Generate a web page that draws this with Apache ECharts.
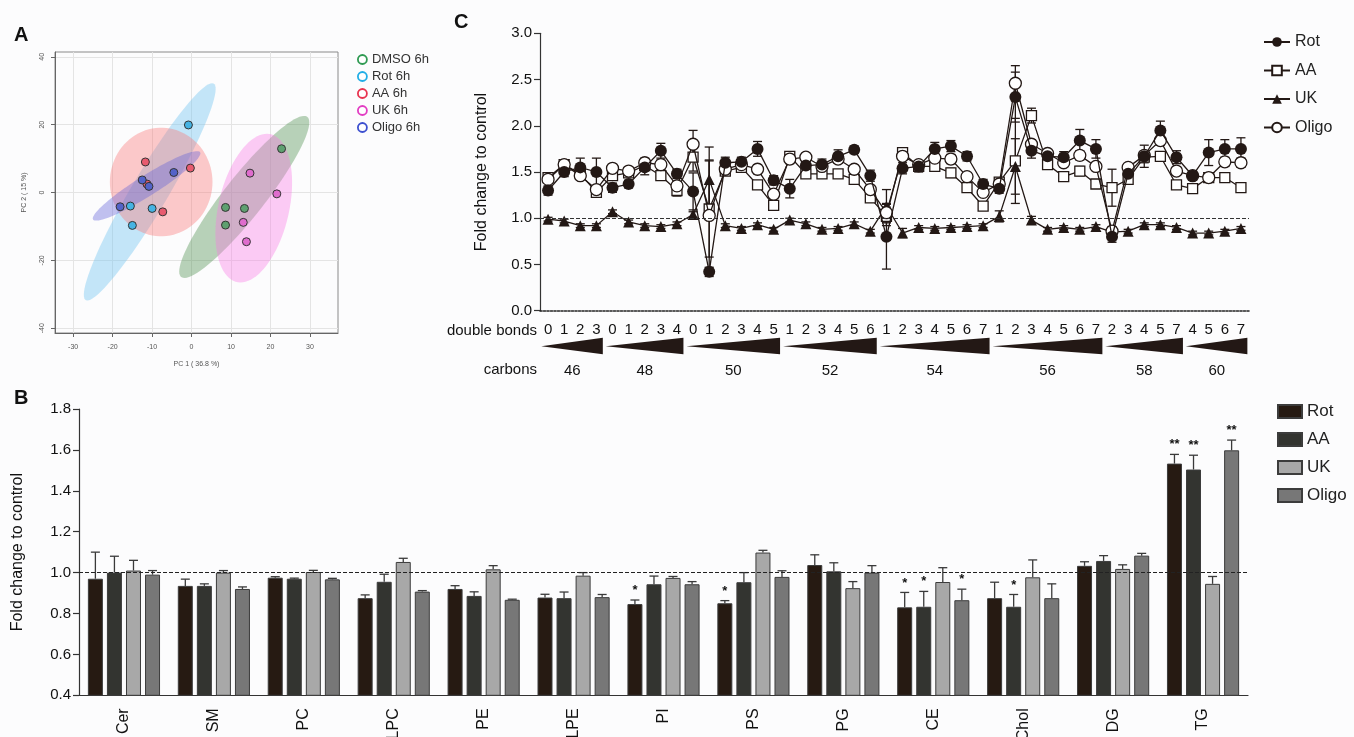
<!DOCTYPE html>
<html>
<head>
<meta charset="utf-8">
<script src="https://cdn.jsdelivr.net/npm/echarts@6/dist/echarts.min.js"></script>
<style>
  html, body { margin: 0; padding: 0; background: #fcfcfd; }
  .panel { position: absolute; }
</style>
</head>
<body>
<div id="chartA" class="panel" style="left:0;top:0;width:450px;height:380px"></div>
<div id="chartC" class="panel" style="left:440px;top:0;width:914px;height:390px"></div>
<div id="chartB" class="panel" style="left:0;top:380px;width:1354px;height:357px"></div>
<script>
const FONT = 'Liberation Sans, Arial, Helvetica, sans-serif'
const INK = '#231815'

// ---------- panel A : PCA ----------
const pcaNames = ['DMSO 6h', 'Rot 6h', 'AA 6h', 'UK 6h', 'Oligo 6h']
const dmsoPts = [[8.6, -4.4], [13.4, -4.7], [8.6, -9.6], [22.8, 12.9]]
const rotPts = [[-0.8, 19.9], [-15.5, -4.0], [-10.0, -4.7], [-15.0, -9.7]]
const aaPts = [[-11.7, 9.0], [-0.3, 7.2], [-7.3, -5.7], [-11.3, 2.5]]
const ukPts = [[14.8, 5.7], [21.6, -0.4], [13.1, -8.8], [13.9, -14.5]]
const oligoPts = [[-4.5, 5.9], [-12.5, 3.7], [-10.8, 1.8], [-18.1, -4.2]]
// confidence ellipses: centre x, centre y, semi axis a, semi axis b, angle (deg)
const pcaEllipses = [
  [13.35, -1.3, 28.5, 5.4, 56.2],
  [-10.6, 0.2, 35.8, 4.8, 63.2],
  [-7.7, 3.1, 13, 16, 0],
  [15.75, -4.6, 22.2, 9, 79.6],
  [-11.4, 1.95, 16.8, 2.9, 36.4]
]
const pcaXTicks = [-30, -20, -10, 0, 10, 20, 30]
const pcaYTicks = [-40, -20, 0, 20, 40]

// ---------- panel C : TG species ----------
const carbonGroups = [46, 48, 50, 52, 54, 56, 58, 60]
const doubleBonds = [
  [0, 1, 2, 3],
  [0, 1, 2, 3, 4],
  [0, 1, 2, 3, 4, 5],
  [1, 2, 3, 4, 5, 6],
  [1, 2, 3, 4, 5, 6, 7],
  [1, 2, 3, 4, 5, 6, 7],
  [2, 3, 4, 5, 7],
  [4, 5, 6, 7]
]
const tgRot = [1.30, 1.50, 1.55, 1.50, 1.33, 1.37, 1.55, 1.73, 1.48, 1.29, 0.42, 1.60, 1.61, 1.75, 1.41,
  1.32, 1.57, 1.58, 1.67, 1.74, 1.46, 0.80, 1.54, 1.56, 1.75, 1.78, 1.67, 1.37, 1.32, 2.31, 1.73, 1.67,
  1.66, 1.84, 1.75, 0.80, 1.48, 1.67, 1.95, 1.66, 1.46, 1.71, 1.75, 1.75]
const tgAA = [1.44, 1.58, 1.48, 1.28, 1.46, 1.49, 1.57, 1.46, 1.30, 1.66, 1.10, 1.51, 1.55, 1.36, 1.14,
  1.67, 1.48, 1.48, 1.48, 1.42, 1.22, 1.02, 1.71, 1.56, 1.56, 1.49, 1.33, 1.13, 1.39, 1.62, 2.11, 1.58,
  1.45, 1.51, 1.37, 1.33, 1.42, 1.66, 1.67, 1.36, 1.32, 1.44, 1.44, 1.33]
const tgUK = [0.99, 0.97, 0.92, 0.92, 1.07, 0.96, 0.92, 0.91, 0.94, 1.04, 1.42, 0.92, 0.89, 0.93, 0.88,
  0.98, 0.94, 0.88, 0.89, 0.94, 0.86, 1.13, 0.84, 0.90, 0.89, 0.90, 0.91, 0.92, 1.02, 1.56, 0.98, 0.88,
  0.90, 0.88, 0.91, 0.85, 0.86, 0.93, 0.93, 0.90, 0.84, 0.84, 0.86, 0.89]
const tgOligo = [1.42, 1.58, 1.46, 1.31, 1.54, 1.51, 1.60, 1.58, 1.35, 1.80, 1.03, 1.53, 1.58, 1.53, 1.26,
  1.64, 1.66, 1.56, 1.64, 1.53, 1.31, 1.06, 1.67, 1.58, 1.65, 1.64, 1.45, 1.28, 1.37, 2.46, 1.80, 1.70,
  1.60, 1.68, 1.56, 0.86, 1.55, 1.68, 1.84, 1.51, 1.46, 1.44, 1.61, 1.60]
const tgRotErr = [0.05, 0.05, 0.10, 0.15, 0.05, 0.04, 0.08, 0.08, 0.05, 0.20, 0.05, 0.06, 0.05, 0.08, 0.05,
  0.10, 0.05, 0.06, 0.07, 0.04, 0.06, 0.35, 0.06, 0.06, 0.07, 0.06, 0.05, 0.05, 0.05, 0.27, 0.08, 0.05,
  0.06, 0.12, 0.10, 0.06, 0.05, 0.12, 0.10, 0.07, 0.05, 0.14, 0.10, 0.12]
const tgAAErr = [0.04, 0.03, 0.04, 0.04, 0.04, 0.04, 0.05, 0.05, 0.06, 0.15, 0.52, 0.04, 0.04, 0.04, 0.04,
  0.05, 0.04, 0.04, 0.04, 0.04, 0.04, 0.10, 0.04, 0.04, 0.05, 0.05, 0.04, 0.04, 0.04, 0.46, 0.08, 0.04,
  0.04, 0.05, 0.04, 0.20, 0.04, 0.06, 0.05, 0.04, 0.04, 0.05, 0.04, 0.04]
const tgUKErr = [0.02, 0.02, 0.02, 0.02, 0.02, 0.02, 0.02, 0.02, 0.02, 0.03, 0.35, 0.02, 0.02, 0.02, 0.02,
  0.02, 0.02, 0.02, 0.02, 0.02, 0.02, 0.18, 0.05, 0.02, 0.02, 0.02, 0.02, 0.02, 0.06, 0.30, 0.04, 0.02,
  0.02, 0.02, 0.02, 0.03, 0.02, 0.02, 0.02, 0.02, 0.02, 0.02, 0.02, 0.02]
const tgOligoErr = [0.04, 0.03, 0.04, 0.04, 0.04, 0.04, 0.05, 0.05, 0.05, 0.15, 0.60, 0.04, 0.04, 0.05, 0.04,
  0.05, 0.04, 0.04, 0.04, 0.04, 0.04, 0.10, 0.04, 0.04, 0.05, 0.05, 0.04, 0.04, 0.04, 0.19, 0.05, 0.04,
  0.04, 0.05, 0.04, 0.05, 0.04, 0.05, 0.05, 0.04, 0.04, 0.04, 0.05, 0.05]

// ---------- panel B : lipid classes ----------
const lipidClasses = ['Cer', 'SM', 'PC', 'LPC', 'PE', 'LPE', 'PI', 'PS', 'PG', 'CE', 'Chol', 'DG', 'TG']
const classRot = [0.97, 0.935, 0.975, 0.875, 0.92, 0.878, 0.846, 0.85, 1.037, 0.83, 0.875, 1.033, 1.533]
const classAA = [1.00, 0.935, 0.97, 0.955, 0.886, 0.875, 0.943, 0.953, 1.006, 0.833, 0.833, 1.057, 1.504]
const classUK = [1.01, 1.00, 1.003, 1.052, 1.016, 0.985, 0.974, 1.098, 0.924, 0.954, 0.977, 1.018, 0.945]
const classOligo = [0.99, 0.92, 0.967, 0.907, 0.867, 0.88, 0.943, 0.979, 1.00, 0.865, 0.875, 1.083, 1.598]
const classRotErr = [0.13, 0.033, 0.005, 0.016, 0.016, 0.016, 0.02, 0.013, 0.05, 0.073, 0.078, 0.02, 0.045]
const classAAErr = [0.08, 0.01, 0.003, 0.037, 0.02, 0.03, 0.04, 0.047, 0.042, 0.075, 0.06, 0.026, 0.07]
const classUKErr = [0.05, 0.01, 0.008, 0.018, 0.018, 0.015, 0.007, 0.011, 0.032, 0.07, 0.085, 0.02, 0.036]
const classOligoErr = [0.02, 0.01, 0.005, 0.005, 0.003, 0.013, 0.013, 0.03, 0.034, 0.054, 0.07, 0.011, 0.05]
const classRotSig = ['', '', '', '', '', '', '*', '*', '', '*', '', '', '**']
const classAASig = ['', '', '', '', '', '', '', '', '', '*', '*', '', '**']
const classUKSig = ['', '', '', '', '', '', '', '', '', '', '', '', '']
const classOligoSig = ['', '', '', '', '', '', '', '', '', '*', '', '', '**']

// ===================== A =====================
const chartA = echarts.init(document.getElementById('chartA'))
const pcaPts = [dmsoPts, rotPts, aaPts, ukPts, oligoPts]
const pcaLine = ['#2f9a52', '#21aee6', '#e8334f', '#e23dc3', '#3c4fcf']
const pcaFill = ['#5ea070', '#45b3e3', '#e85b6f', '#df6ccd', '#5363c9']
const pcaShade = ['rgba(70,140,70,0.38)', 'rgba(110,195,240,0.40)', 'rgba(250,115,115,0.38)',
  'rgba(250,120,230,0.38)', 'rgba(95,95,215,0.38)']

const pcaAxisLabel = { fontSize: 7, color: '#555', fontFamily: FONT }
chartA.setOption({
  animation: false,
  title: { text: 'A', left: 9, top: 20, textStyle: { fontSize: 20, fontWeight: 'bold', color: '#111', fontFamily: FONT } },
  grid: { left: 55, top: 52, width: 283, height: 281, show: true, borderColor: '#8a8a8a', borderWidth: 1, outerBoundsMode: 'none' },
  xAxis: {
    type: 'value', min: -34.6, max: 37.1,
    name: 'PC 1 ( 36.8 %)', nameLocation: 'middle', nameGap: 28,
    nameTextStyle: { fontSize: 7, color: '#555', fontFamily: FONT },
    axisLine: { onZero: false, lineStyle: { color: '#666' } },
    axisTick: { customValues: pcaXTicks, length: 4, lineStyle: { color: '#666' } },
    axisLabel: Object.assign({ customValues: pcaXTicks, margin: 11 }, pcaAxisLabel),
    splitLine: { show: true, lineStyle: { color: '#e4e4e4' } }
  },
  yAxis: {
    type: 'value', min: -41.4, max: 41.4,
    name: 'PC 2 ( 15 %)', nameLocation: 'middle', nameGap: 27,
    nameTextStyle: { fontSize: 7, color: '#555', fontFamily: FONT },
    axisLine: { show: true, onZero: false, lineStyle: { color: '#666' } },
    axisTick: { show: true, customValues: pcaYTicks, length: 4, lineStyle: { color: '#666' } },
    axisLabel: Object.assign({ customValues: pcaYTicks, rotate: 90, margin: 9 }, pcaAxisLabel),
    splitLine: { show: true, lineStyle: { color: '#e4e4e4' } }
  },
  legend: {
    orient: 'vertical', left: 352, top: 48, itemWidth: 9, itemHeight: 9, itemGap: 4,
    textStyle: { fontSize: 13, color: '#333', fontFamily: FONT },
    data: pcaNames.map((n, i) => ({
      name: n, icon: 'circle',
      itemStyle: { color: '#fff', borderColor: pcaLine[i], borderWidth: 1.8 }
    }))
  },
  series: [
    {
      type: 'custom', name: 'ellipses', z: 1,
      data: pcaEllipses,
      encode: { x: 0, y: 1 },
      renderItem: function (params, api) {
        const cx = api.value(0), cy = api.value(1)
        const a = api.value(2), b = api.value(3)
        const t = api.value(4) * Math.PI / 180
        const pts = []
        for (let k = 0; k < 90; k++) {
          const th = 2 * Math.PI * k / 90
          const dx = a * Math.cos(th), dy = b * Math.sin(th)
          pts.push(api.coord([cx + dx * Math.cos(t) - dy * Math.sin(t), cy + dx * Math.sin(t) + dy * Math.cos(t)]))
        }
        return { type: 'polygon', shape: { points: pts }, style: { fill: pcaShade[params.dataIndex], stroke: null } }
      }
    }
  ].concat(pcaNames.map((n, i) => ({
    type: 'scatter', name: n, z: 3,
    data: pcaPts[i], symbolSize: 8,
    itemStyle: { color: pcaFill[i], borderColor: '#333', borderWidth: 1, opacity: 1 }
  })))
})

// ===================== C =====================
const chartC = echarts.init(document.getElementById('chartC'))
const tgCats = []
const tgGroups = []
carbonGroups.forEach((c, g) => {
  const start = tgCats.length
  doubleBonds[g].forEach(d => tgCats.push(c + ':' + d))
  tgGroups.push([start, tgCats.length - 1, c, 0])
})

function errSeriesC(vals, errs) {
  return {
    type: 'custom', z: 1, silent: true,
    data: vals.map((v, i) => [i, v, errs[i]]),
    encode: { x: 0, y: 1 },
    renderItem: function (params, api) {
      const i = api.value(0), v = api.value(1), e = api.value(2)
      const hi = api.coord([i, v + e]), lo = api.coord([i, v - e])
      const st = { stroke: INK, lineWidth: 1.3 }
      return {
        type: 'group', children: [
          { type: 'line', shape: { x1: hi[0], y1: hi[1], x2: lo[0], y2: lo[1] }, style: st },
          { type: 'line', shape: { x1: hi[0] - 4.5, y1: hi[1], x2: hi[0] + 4.5, y2: hi[1] }, style: st },
          { type: 'line', shape: { x1: lo[0] - 4.5, y1: lo[1], x2: lo[0] + 4.5, y2: lo[1] }, style: st }
        ]
      }
    }
  }
}
const lineBase = { type: 'line', lineStyle: { color: INK, width: 1.3 }, showSymbol: true }

chartC.setOption({
  animation: false,
  title: { text: 'C', left: 9, top: 7, textStyle: { fontSize: 20, fontWeight: 'bold', color: '#111', fontFamily: FONT } },
  grid: { left: 100, top: 33.3, width: 709, height: 277.4, outerBoundsMode: 'none' },
  legend: {
    orient: 'vertical', left: 818, top: 29, itemWidth: 26, itemHeight: 12, itemGap: 12.5,
    textStyle: { fontSize: 16, color: '#222', fontFamily: FONT },
    data: ['Rot', 'AA', 'UK', 'Oligo']
  },
  xAxis: {
    type: 'category', data: tgCats, boundaryGap: true,
    axisLine: { lineStyle: { color: '#222', width: 1.6, type: [2, 1.5] } },
    axisTick: { alignWithLabel: true, interval: 0, length: 6, lineStyle: { color: '#222', width: 1.2 } },
    axisLabel: {
      interval: 0, margin: 12, fontSize: 15, color: '#111', fontFamily: FONT,
      formatter: v => v.split(':')[1]
    }
  },
  yAxis: {
    type: 'value', min: 0, max: 3, interval: 0.5,
    name: 'Fold change to control', nameLocation: 'middle', nameGap: 50,
    nameTextStyle: { fontSize: 16, color: '#111', fontFamily: FONT },
    axisLine: { show: true, lineStyle: { color: '#333', width: 1.2 } },
    axisTick: { show: true, length: 6, lineStyle: { color: '#333', width: 1.2 } },
    axisLabel: { fontSize: 15, color: '#111', fontFamily: FONT, margin: 8, formatter: v => v.toFixed(1) },
    splitLine: { show: false }
  },
  graphic: [
    { type: 'text', right: 914 - 97, top: 323, style: { text: 'double bonds', fontSize: 15, fill: '#111', fontFamily: FONT, textAlign: 'right' } },
    { type: 'text', right: 914 - 97, top: 362, style: { text: 'carbons', fontSize: 15, fill: '#111', fontFamily: FONT, textAlign: 'right' } }
  ],
  series: [
    errSeriesC(tgAA, tgAAErr),
    errSeriesC(tgUK, tgUKErr),
    errSeriesC(tgOligo, tgOligoErr),
    errSeriesC(tgRot, tgRotErr),
    Object.assign({}, lineBase, {
      name: 'AA', z: 3, data: tgAA, symbol: 'rect', symbolSize: 10,
      itemStyle: { color: '#fff', borderColor: INK, borderWidth: 1.3 }
    }),
    Object.assign({}, lineBase, {
      name: 'UK', z: 3, data: tgUK, symbol: 'triangle', symbolSize: 11,
      itemStyle: { color: INK }
    }),
    Object.assign({}, lineBase, {
      name: 'Oligo', z: 4, data: tgOligo, symbol: 'circle', symbolSize: 12,
      itemStyle: { color: '#fff', borderColor: INK, borderWidth: 1.3 }
    }),
    Object.assign({}, lineBase, {
      name: 'Rot', z: 5, data: tgRot, symbol: 'circle', symbolSize: 12,
      itemStyle: { color: INK },
      markLine: {
        silent: true, symbol: 'none', label: { show: false },
        lineStyle: { type: [4, 2], color: '#333', width: 1 },
        data: [{ yAxis: 1 }]
      }
    }),
    {
      type: 'custom', silent: true, z: 2,
      data: tgGroups,
      encode: { x: [0, 1], y: 3 },
      renderItem: function (params, api) {
        const s = api.value(0), e = api.value(1)
        const bw = api.size([1, 0])[0]
        const p0 = api.coord([s, 0]), p1 = api.coord([e, 0])
        const x0 = p0[0] - bw * 0.42, x1 = p1[0] + bw * 0.4
        const y = p0[1]
        return {
          type: 'group', children: [
            { type: 'polygon', shape: { points: [[x0, y + 35.5], [x1, y + 27], [x1, y + 43.5]] }, style: { fill: INK } },
            {
              type: 'text', x: (p0[0] + p1[0]) / 2, y: y + 60,
              style: { text: String(api.value(2)), fontSize: 15, fill: '#111', fontFamily: FONT, align: 'center', verticalAlign: 'middle' }
            }
          ]
        }
      }
    }
  ]
})

// ===================== B =====================
const chartB = echarts.init(document.getElementById('chartB'))
const classVals = [classRot, classAA, classUK, classOligo]
const classErrs = [classRotErr, classAAErr, classUKErr, classOligoErr]
const classSig = [classRotSig, classAASig, classUKSig, classOligoSig]
const classNames = ['Rot', 'AA', 'UK', 'Oligo']
const barColors = ['#261a12', '#333430', '#a8a8a8', '#777777']
const BAR_W = 15, BAR_STEP = 19.05

function errSeriesB(k) {
  return {
    type: 'custom', z: 4, silent: true,
    data: classVals[k].map((v, i) => [i, v, classErrs[k][i], i]),
    encode: { x: 0, y: 1 },
    renderItem: function (params, api) {
      const i = api.value(0), v = api.value(1), e = api.value(2)
      const off = (k - 1.5) * BAR_STEP
      const base = api.coord([i, v]), hi = api.coord([i, v + e])
      const x = base[0] + off
      const st = { stroke: '#3a3a3a', lineWidth: 1.3 }
      const kids = [
        { type: 'line', shape: { x1: x, y1: base[1], x2: x, y2: hi[1] }, style: st },
        { type: 'line', shape: { x1: x - 4.5, y1: hi[1], x2: x + 4.5, y2: hi[1] }, style: st }
      ]
      const sig = classSig[k][params.dataIndex]
      if (sig) {
        kids.push({
          type: 'text', x: x, y: hi[1] - 3,
          style: { text: sig, fontSize: 13, fontWeight: 'bold', fill: '#111', fontFamily: FONT, align: 'center', verticalAlign: 'bottom' }
        })
      }
      return { type: 'group', children: kids }
    }
  }
}

chartB.setOption({
  animation: false,
  title: { text: 'B', left: 9, top: 3, textStyle: { fontSize: 20, fontWeight: 'bold', color: '#111', fontFamily: FONT } },
  grid: { left: 79, top: 29, width: 1169, height: 286.3, outerBoundsMode: 'none' },
  legend: {
    orient: 'vertical', left: 1272, top: 18, itemWidth: 24, itemHeight: 13, itemGap: 11, icon: 'rect',
    textStyle: { fontSize: 17, color: '#222', fontFamily: FONT },
    data: classNames
  },
  xAxis: {
    type: 'category', data: lipidClasses,
    axisLine: { lineStyle: { color: '#333', width: 1.2 } },
    axisTick: { alignWithLabel: true, length: 6, lineStyle: { color: '#333', width: 1.2 } },
    axisLabel: { rotate: 90, interval: 0, margin: 13, fontSize: 16, color: '#111', fontFamily: FONT }
  },
  yAxis: {
    type: 'value', min: 0.4, max: 1.8, interval: 0.2,
    name: 'Fold change to control', nameLocation: 'middle', nameGap: 53,
    nameTextStyle: { fontSize: 16, color: '#111', fontFamily: FONT },
    axisLine: { show: true, lineStyle: { color: '#333', width: 1.2 } },
    axisTick: { show: true, length: 6, lineStyle: { color: '#333', width: 1.2 } },
    axisLabel: { fontSize: 15, color: '#111', fontFamily: FONT, margin: 8, formatter: v => v.toFixed(1) },
    splitLine: { show: false }
  },
  series: classNames.map((n, k) => ({
    type: 'bar', name: n, data: classVals[k], barWidth: BAR_W, barGap: '27%', z: 2,
    itemStyle: { color: barColors[k], borderColor: '#3c3c3c', borderWidth: 1 },
    markLine: k === 0 ? {
      silent: true, symbol: 'none', label: { show: false }, z: 10,
      lineStyle: { type: [4, 2], color: '#222', width: 1.2 },
      data: [{ yAxis: 1 }]
    } : undefined
  })).concat(classNames.map((n, k) => errSeriesB(k)))
})
</script>
</body>
</html>
